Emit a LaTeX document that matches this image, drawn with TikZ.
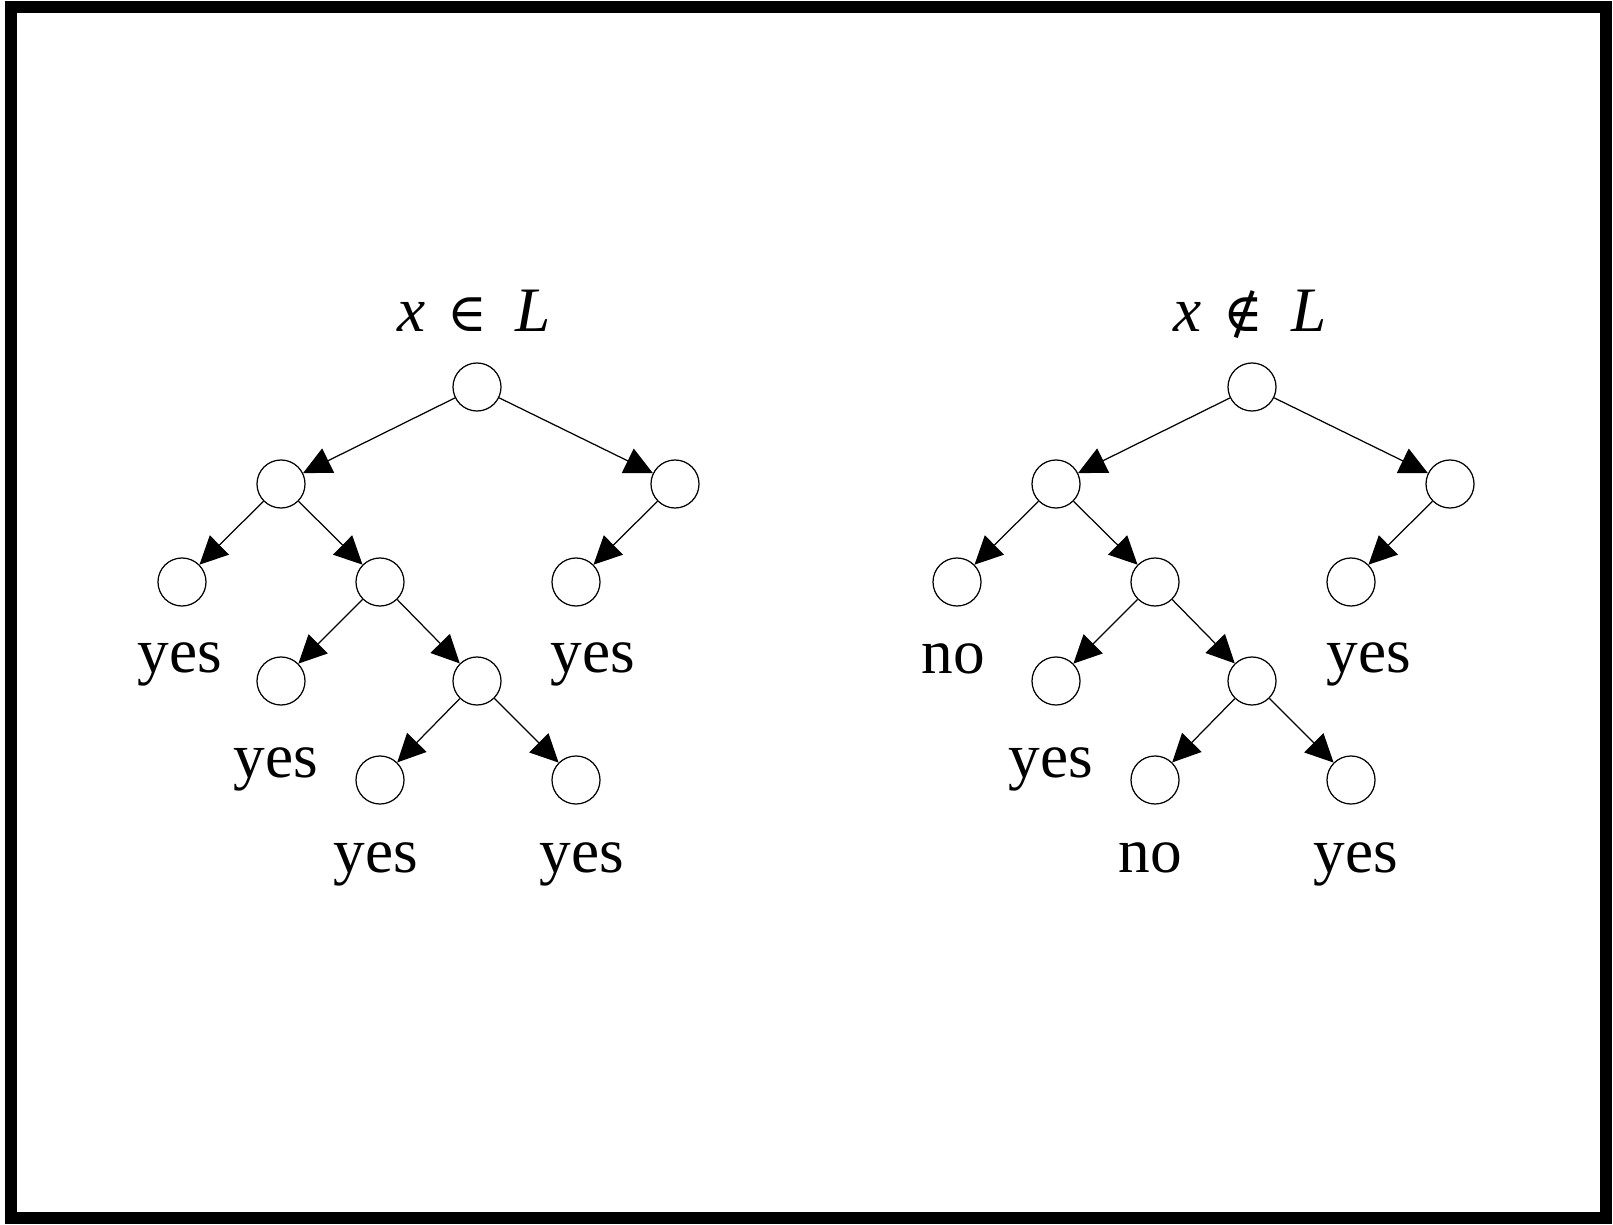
\documentclass[tikz,border=0pt]{standalone}
\usepackage{fontspec}
\setmainfont{Liberation Serif}
\newfontfamily\relfont[Scale=0.85]{DejaVu Serif}
\usepackage{tikz}
\usetikzlibrary{arrows.meta}

\tikzset{
  vert/.style={circle,draw,line width=0.35pt,minimum size=0.48cm,inner sep=0pt},
  answer/.style={anchor=base,inner sep=0pt,font=\fontsize{18}{22}\selectfont},
  branch/.style={line width=0.35pt,-{Triangle[length=0.28cm,width=0.27cm]}}
}

\begin{document}
\begin{tikzpicture}[x=0.01cm,y=-0.01cm]
  \useasboundingbox (0,0) rectangle (1613,1225);
  \draw[line width=0.12cm] (11,7) rectangle (1606,1218);

  % left tree
  \node[answer] (titleL) at (474,332) {\textit{x}\hspace{0.35em}{\relfont ∈}\hspace{0.45em}\textit{L}};
  \node[vert] (Lr) at (477,387) {};
  \node[vert] (La) at (281,484) {};
  \node[vert] (Lb) at (675,484) {};
  \node[vert] (Lc) at (182,582) {};
  \node[vert] (Ld) at (380,582) {};
  \node[vert] (Le) at (576,582) {};
  \node[vert] (Lf) at (281,681) {};
  \node[vert] (Lg) at (477,681) {};
  \node[vert] (Lh) at (380,780) {};
  \node[vert] (Li) at (576,780) {};
  \node[answer] (Lcans) at (180,672) {yes};
  \node[answer] (Leans) at (593,672) {yes};
  \node[answer] (Lfans) at (276,777) {yes};
  \node[answer] (Lhans) at (376,872) {yes};
  \node[answer] (Lians) at (582,872) {yes};

  % right tree
  \node[answer] (titleR) at (1250,332) {\textit{x}\hspace{0.35em}{\relfont ∉}\hspace{0.45em}\textit{L}};
  \node[vert] (Rr) at (1252,387) {};
  \node[vert] (Ra) at (1056,484) {};
  \node[vert] (Rb) at (1450,484) {};
  \node[vert] (Rc) at (957,582) {};
  \node[vert] (Rd) at (1155,582) {};
  \node[vert] (Re) at (1351,582) {};
  \node[vert] (Rf) at (1056,681) {};
  \node[vert] (Rg) at (1252,681) {};
  \node[vert] (Rh) at (1155,780) {};
  \node[vert] (Ri) at (1351,780) {};
  \node[answer] (Rcans) at (953,673) {no};
  \node[answer] (Reans) at (1369,672) {yes};
  \node[answer] (Rfans) at (1051,777) {yes};
  \node[answer] (Rhans) at (1150,872) {no};
  \node[answer] (Rians) at (1356,872) {yes};

  \foreach \t in {L,R}{
    \foreach \u/\v in {r/a,r/b,a/c,a/d,b/e,d/f,d/g,g/h,g/i}
      \draw[branch] (\t\u) -- (\t\v);
  }
\end{tikzpicture}
\end{document}
